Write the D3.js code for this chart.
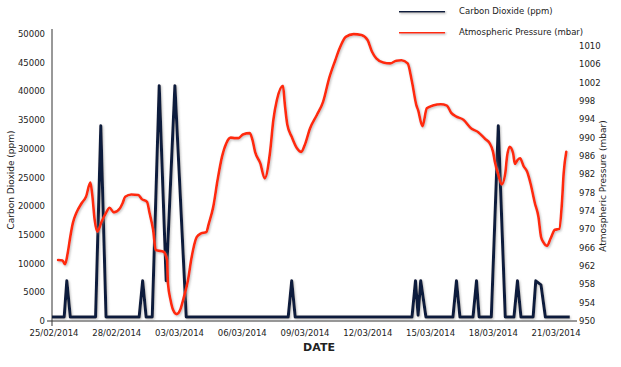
<!DOCTYPE html>
<html>
<head>
<meta charset="utf-8">
<script src="https://cdn.jsdelivr.net/npm/d3@7"></script>
<style>
  body { margin: 0; background: #fff; }
  svg { display: block; font-family: 'DejaVu Sans', sans-serif; }
  .tick-label { font-size: 8.5px; fill: #222; }
</style>
</head>
<body>
<div id="chart"></div>
<script>
// carbon dioxide readings (ppm)
var co2Dates = ['25/02/2014 00:00', '25/02/2014 14:00', '25/02/2014 17:00', '25/02/2014 21:00',
  '27/02/2014 02:00', '27/02/2014 08:00', '27/02/2014 14:00',
  '01/03/2014 04:00', '01/03/2014 08:00', '01/03/2014 12:00', '01/03/2014 19:00',
  '02/03/2014 03:00', '02/03/2014 11:00', '02/03/2014 21:00', '03/03/2014 10:00',
  '08/03/2014 07:00', '08/03/2014 11:00', '08/03/2014 15:00',
  '14/03/2014 05:00', '14/03/2014 09:00', '14/03/2014 12:00', '14/03/2014 15:00', '14/03/2014 21:00',
  '16/03/2014 04:00', '16/03/2014 08:00', '16/03/2014 12:00',
  '17/03/2014 03:00', '17/03/2014 07:00', '17/03/2014 10:00',
  '18/03/2014 00:00', '18/03/2014 08:00', '18/03/2014 16:00',
  '19/03/2014 02:00', '19/03/2014 06:00', '19/03/2014 10:00',
  '20/03/2014 00:00', '20/03/2014 03:00', '20/03/2014 09:00', '20/03/2014 14:00',
  '21/03/2014 18:00']
var co2Values = [700, 700, 7000, 700,
  700, 34000, 700,
  700, 7000, 700, 700,
  41000, 7000, 41000, 700,
  700, 7000, 700,
  700, 7000, 1000, 7000, 700,
  700, 7000, 700,
  700, 7000, 700,
  700, 34000, 700,
  700, 7000, 700,
  700, 7000, 6300, 700,
  700]

// atmospheric pressure readings (mbar)
var pressureDates = ['25/02/2014 07:00', '25/02/2014 12:00', '25/02/2014 15:00', '25/02/2014 18:00', '25/02/2014 21:00',
  '26/02/2014 00:00', '26/02/2014 04:00', '26/02/2014 10:00', '26/02/2014 15:00', '26/02/2014 20:00', '26/02/2014 22:00',
  '27/02/2014 01:00', '27/02/2014 04:00', '27/02/2014 09:00', '27/02/2014 14:00', '27/02/2014 18:00', '27/02/2014 23:00',
  '28/02/2014 06:00', '28/02/2014 09:00', '28/02/2014 12:00', '28/02/2014 19:00',
  '01/03/2014 03:00', '01/03/2014 07:00', '01/03/2014 13:00', '01/03/2014 16:00', '01/03/2014 20:00', '01/03/2014 23:00',
  '02/03/2014 08:00', '02/03/2014 12:00', '02/03/2014 13:00', '02/03/2014 16:00', '02/03/2014 19:00', '02/03/2014 23:00',
  '03/03/2014 03:00', '03/03/2014 07:00', '03/03/2014 12:00', '03/03/2014 16:00', '03/03/2014 22:00',
  '04/03/2014 03:00', '04/03/2014 09:00', '04/03/2014 12:00', '04/03/2014 17:00', '04/03/2014 22:00',
  '05/03/2014 03:00', '05/03/2014 08:00', '05/03/2014 13:00', '05/03/2014 18:00', '05/03/2014 22:00',
  '06/03/2014 03:00', '06/03/2014 11:00', '06/03/2014 14:00', '06/03/2014 17:00', '06/03/2014 23:00',
  '07/03/2014 04:00', '07/03/2014 10:00', '07/03/2014 14:00', '07/03/2014 18:00',
  '08/03/2014 01:00', '08/03/2014 03:00', '08/03/2014 06:00', '08/03/2014 11:00', '08/03/2014 17:00', '08/03/2014 22:00',
  '09/03/2014 02:00', '09/03/2014 08:00', '09/03/2014 16:00', '09/03/2014 23:00',
  '10/03/2014 06:00', '10/03/2014 13:00', '10/03/2014 18:00',
  '11/03/2014 01:00', '11/03/2014 10:00', '11/03/2014 19:00',
  '12/03/2014 02:00', '12/03/2014 07:00', '12/03/2014 12:00', '12/03/2014 20:00',
  '13/03/2014 04:00', '13/03/2014 11:00', '13/03/2014 17:00',
  '14/03/2014 00:00', '14/03/2014 05:00', '14/03/2014 10:00', '14/03/2014 12:00', '14/03/2014 17:00', '14/03/2014 22:00',
  '15/03/2014 05:00', '15/03/2014 14:00', '15/03/2014 21:00',
  '16/03/2014 02:00', '16/03/2014 08:00', '16/03/2014 16:00',
  '17/03/2014 01:00', '17/03/2014 09:00', '17/03/2014 17:00', '17/03/2014 22:00',
  '18/03/2014 02:00', '18/03/2014 04:00', '18/03/2014 08:00', '18/03/2014 12:00', '18/03/2014 16:00', '18/03/2014 18:00', '18/03/2014 21:00',
  '19/03/2014 01:00', '19/03/2014 03:00', '19/03/2014 06:00', '19/03/2014 09:00', '19/03/2014 13:00', '19/03/2014 17:00', '19/03/2014 21:00',
  '20/03/2014 02:00', '20/03/2014 06:00', '20/03/2014 09:00', '20/03/2014 12:00', '20/03/2014 16:00', '20/03/2014 20:00',
  '21/03/2014 01:00', '21/03/2014 06:00', '21/03/2014 09:00', '21/03/2014 11:00', '21/03/2014 14:00']
var pressureValues = [963.3, 963.2, 962.4, 964.8, 968.4,
  971.4, 973.6, 975.7, 977.1, 980.2, 977.9,
  972.0, 969.5, 971.7, 973.6, 974.7, 973.7,
  974.6, 975.7, 977.1, 977.6,
  977.5, 976.6, 976.0, 973.5, 969.9, 965.5,
  965.1, 963.3, 958.3, 954.6, 952.4, 951.5,
  952.4, 955.0, 958.9, 963.7, 968.3,
  969.1, 969.4, 971.3, 974.9, 980.8,
  985.8, 988.8, 990.0, 989.9, 989.9,
  990.7, 991.0, 989.5, 986.9, 984.4,
  981.1, 986.6, 993.9, 998.2,
  1001.3, 997.5, 992.8, 990.2, 987.7, 986.9,
  988.4, 992.0, 995.0, 997.8,
  1003.0, 1006.9, 1009.5,
  1012.0, 1012.6, 1012.4,
  1011.3, 1008.8, 1007.3, 1006.4,
  1006.2, 1006.8, 1006.9,
  1006.2, 1002.2, 997.1, 996.0, 992.5, 996.4,
  997.0, 997.3, 997.0,
  995.4, 994.6, 993.9,
  992.0, 991.2, 989.7, 988.8,
  986.9, 984.8, 981.9, 979.8, 982.2, 985.8, 988.0,
  986.6, 984.3, 985.1, 985.5, 983.8, 982.6, 980.0,
  975.7, 972.8, 968.4, 967.1, 966.4, 968.0,
  969.9, 970.1, 975.7, 982.2, 986.9]

// axis ticks
var xTickLabels = ['25/02/2014', '28/02/2014', '03/03/2014', '06/03/2014', '09/03/2014',
  '12/03/2014', '15/03/2014', '18/03/2014', '21/03/2014']
var co2Ticks = [0, 5000, 10000, 15000, 20000, 25000, 30000, 35000, 40000, 45000, 50000]
var pressureTicks = [950, 954, 958, 962, 966, 970, 974, 978, 982, 986, 990, 994, 998, 1002, 1006, 1010]

var seriesNames = ['Carbon Dioxide (ppm)', 'Atmospheric Pressure (mbar)']
var seriesColors = ['#0b1b3d', '#ff2a08']

var width = 621
var height = 367

var parseTime = d3.timeParse('%d/%m/%Y %H:%M')
var parseDay = d3.timeParse('%d/%m/%Y')

var svg = d3.select('#chart')
  .append('svg')
  .attr('width', width)
  .attr('height', height)

// soft grey shadow under the lines (user space so flat legend lines keep it too)
var shadow = svg.append('defs').append('filter')
  .attr('id', 'shadow')
  .attr('filterUnits', 'userSpaceOnUse')
  .attr('x', 0).attr('y', 0)
  .attr('width', width).attr('height', height)
shadow.append('feDropShadow')
  .attr('dx', 1).attr('dy', 1.2)
  .attr('stdDeviation', 0.8)
  .attr('flood-color', '#888')
  .attr('flood-opacity', 0.55)

var x = d3.scaleTime()
  .domain([parseDay('25/02/2014'), parseDay('22/03/2014')])
  .range([52, 575])
var yLeft = d3.scaleLinear().domain([0, 50000]).range([321, 34])
var yRight = d3.scaleLinear().domain([950, 1010]).range([321, 46])

// axes lines
svg.append('line')
  .attr('x1', 52).attr('x2', 52)
  .attr('y1', 29).attr('y2', 326)
  .attr('stroke', '#333').attr('stroke-width', 1)
svg.append('line')
  .attr('x1', 47).attr('x2', 577)
  .attr('y1', yLeft(0)).attr('y2', yLeft(0))
  .attr('stroke', '#333').attr('stroke-width', 1)

// left tick labels
svg.selectAll('.left-tick')
  .data(co2Ticks)
  .enter()
  .append('text')
  .attr('class', 'tick-label')
  .attr('x', 45)
  .attr('y', function (d) { return yLeft(d) + 3 })
  .attr('text-anchor', 'end')
  .text(function (d) { return d })

// right tick labels
svg.selectAll('.right-tick')
  .data(pressureTicks)
  .enter()
  .append('text')
  .attr('class', 'tick-label')
  .attr('x', 579)
  .attr('y', function (d) { return yRight(d) + 3 })
  .text(function (d) { return d })

// x tick labels
svg.selectAll('.x-tick')
  .data(xTickLabels)
  .enter()
  .append('text')
  .attr('class', 'tick-label')
  .attr('x', function (d) { return x(parseDay(d)) + 2 })
  .attr('y', 336)
  .attr('text-anchor', 'middle')
  .text(function (d) { return d })

// axis titles
svg.append('text')
  .attr('transform', 'translate(14,180) rotate(-90)')
  .attr('text-anchor', 'middle')
  .style('font-size', '9px')
  .style('fill', '#222')
  .text(seriesNames[0])
svg.append('text')
  .attr('transform', 'translate(606,186) rotate(-90)')
  .attr('text-anchor', 'middle')
  .style('font-size', '9px')
  .style('fill', '#222')
  .text(seriesNames[1])
svg.append('text')
  .attr('x', 319)
  .attr('y', 351)
  .attr('text-anchor', 'middle')
  .style('font-size', '11px')
  .style('font-weight', 'bold')
  .style('fill', '#222')
  .text('DATE')

// lines
var co2Data = co2Dates.map(function (d, i) { return { date: parseTime(d), value: co2Values[i] } })
var pressureData = pressureDates.map(function (d, i) { return { date: parseTime(d), value: pressureValues[i] } })

var co2Line = d3.line()
  .x(function (d) { return x(d.date) })
  .y(function (d) { return yLeft(d.value) })
var pressureLine = d3.line()
  .curve(d3.curveMonotoneX)
  .x(function (d) { return x(d.date) })
  .y(function (d) { return yRight(d.value) })

svg.append('path')
  .datum(co2Data)
  .attr('d', co2Line)
  .attr('fill', 'none')
  .attr('stroke', seriesColors[0])
  .attr('stroke-width', 3)
  .attr('stroke-linejoin', 'round')
  .attr('filter', 'url(#shadow)')

svg.append('path')
  .datum(pressureData)
  .attr('d', pressureLine)
  .attr('fill', 'none')
  .attr('stroke', seriesColors[1])
  .attr('stroke-width', 2.6)
  .attr('stroke-linejoin', 'round')
  .attr('stroke-linecap', 'round')
  .attr('filter', 'url(#shadow)')

// legend
var legend = svg.selectAll('.legend')
  .data(seriesNames)
  .enter()
  .append('g')
  .attr('transform', function (d, i) { return 'translate(399,' + (11 + i * 21) + ')' })
legend.append('line')
  .attr('x1', 0).attr('x2', 46)
  .attr('stroke', function (d, i) { return seriesColors[i] })
  .attr('stroke-width', 3)
  .attr('filter', 'url(#shadow)')
legend.append('text')
  .attr('x', 60)
  .attr('y', 3)
  .style('font-size', '8.5px')
  .style('fill', '#222')
  .text(function (d) { return d })
</script>
</body>
</html>
